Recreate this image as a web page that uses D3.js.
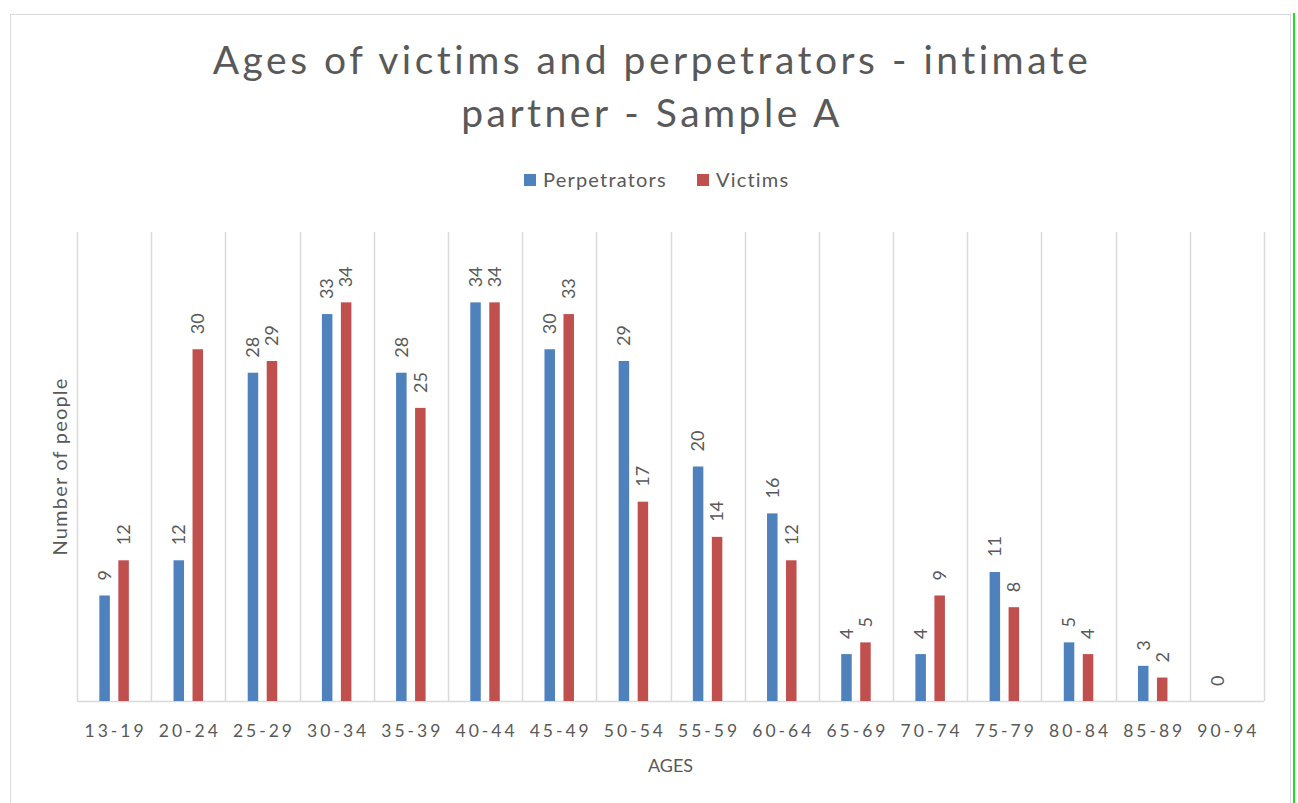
<!DOCTYPE html>
<html>
<head>
<meta charset="utf-8">
<script src="https://cdn.jsdelivr.net/npm/d3@7"></script>
<style>
  body { margin: 0; background: #fff; }
  text { font-family: Lato, "Open Sans", sans-serif; fill: #595959; }
</style>
</head>
<body>
<div id="chart"></div>
<script>
// age bands on the x axis
const ageGroups = ["13-19", "20-24", "25-29", "30-34", "35-39", "40-44", "45-49", "50-54",
  "55-59", "60-64", "65-69", "70-74", "75-79", "80-84", "85-89", "90-94"];
const seriesNames = ["Perpetrators", "Victims"];
const perpetrators = [9, 12, 28, 33, 28, 34, 30, 29, 20, 16, 4, 4, 11, 5, 3, 0];
const victims = [12, 30, 29, 34, 25, 34, 33, 17, 14, 12, 5, 9, 8, 4, 2, null];
const colors = ["#4f81bd", "#c0504d"];
const titleLines = ["Ages of victims and perpetrators - intimate", "partner - Sample A"];

const width = 1298, height = 803;
const plot = { left: 77, right: 1264, top: 232, bottom: 701 };

const svg = d3.select("#chart").append("svg")
  .attr("width", width)
  .attr("height", height);

// chart border + the green edge line
svg.append("rect")
  .attr("x", 10.5).attr("y", 14.5)
  .attr("width", 1280).attr("height", 800)
  .attr("fill", "none")
  .attr("stroke", "#d9d9d9");
svg.append("line")
  .attr("x1", 1294).attr("x2", 1294)
  .attr("y1", 13).attr("y2", height)
  .attr("stroke", "#22dd22").attr("stroke-width", 2);

// title
svg.append("g").selectAll("text")
  .data(titleLines)
  .join("text")
  .attr("x", 652)
  .attr("y", (d, i) => 74 + i * 53)
  .attr("text-anchor", "middle")
  .attr("font-size", 39)
  .attr("letter-spacing", 3.5)
  .text(d => d);

// scales
const x0 = d3.scaleBand()
  .domain(ageGroups)
  .range([plot.left, plot.right])
  .padding(0);

const x1 = d3.scaleBand()
  .domain(seriesNames)
  .range([0, x0.bandwidth()])
  .paddingInner(0.447)
  .paddingOuter(1.176);

const y = d3.scaleLinear()
  .domain([0, 40])
  .range([plot.bottom, plot.top]);

// vertical gridlines on category boundaries
const bounds = ageGroups.map(d => x0(d)).concat([plot.right]);
svg.append("g").selectAll("line")
  .data(bounds)
  .join("line")
  .attr("x1", d => Math.round(d) + 0.5)
  .attr("x2", d => Math.round(d) + 0.5)
  .attr("y1", plot.top)
  .attr("y2", plot.bottom)
  .attr("stroke", "#d9d9d9")
  .attr("stroke-width", 1.5);

// baseline
svg.append("line")
  .attr("x1", plot.left).attr("x2", plot.right)
  .attr("y1", plot.bottom + 0.5).attr("y2", plot.bottom + 0.5)
  .attr("stroke", "#d9d9d9")
  .attr("stroke-width", 1.5);

const rows = ageGroups.map((g, i) => ({
  group: g,
  values: [
    { key: seriesNames[0], value: perpetrators[i], color: colors[0] },
    { key: seriesNames[1], value: victims[i], color: colors[1] }
  ]
}));

const groups = svg.append("g").selectAll("g")
  .data(rows)
  .join("g")
  .attr("transform", d => `translate(${x0(d.group)},0)`);

groups.selectAll("rect")
  .data(d => d.values.filter(v => v.value !== null))
  .join("rect")
  .attr("x", d => x1(d.key))
  .attr("width", x1.bandwidth())
  .attr("y", d => y(d.value))
  .attr("height", d => y(0) - y(d.value))
  .attr("fill", d => d.color);

// rotated value labels
groups.selectAll("text")
  .data(d => d.values.filter(v => v.value !== null))
  .join("text")
  .attr("transform", d => `translate(${x1(d.key) + x1.bandwidth() / 2},${y(d.value) - 15}) rotate(-90)`)
  .attr("dy", "0.35em")
  .attr("font-size", 18)
  .attr("fill", "#6b6b6b")
  .text(d => d.value);

// x axis tick labels
const xAxis = d3.axisBottom(x0).tickSize(0).tickPadding(0);
svg.append("g")
  .attr("transform", `translate(0,${plot.bottom})`)
  .call(xAxis)
  .call(g => g.select(".domain").remove())
  .call(g => g.selectAll("text")
    .attr("y", 30)
    .attr("dy", "0.35em")
    .attr("dx", "1.5")
    .attr("font-size", 17.5)
    .attr("letter-spacing", 3)
    .attr("font-family", "Lato, sans-serif")
    .attr("fill", "#595959"));

// axis titles
svg.append("text")
  .attr("x", (plot.left + plot.right) / 2)
  .attr("y", 766)
  .attr("dy", "0.35em")
  .attr("text-anchor", "middle")
  .attr("font-size", 18)
  .text("AGES");

svg.append("text")
  .attr("transform", `translate(60,${(plot.top + plot.bottom) / 2}) rotate(-90)`)
  .attr("dy", "0.35em")
  .attr("text-anchor", "middle")
  .attr("font-size", 20)
  .attr("letter-spacing", 1.2)
  .text("Number of people");

// legend
const legend = svg.append("g").attr("transform", "translate(524,180)");
const legendX = [0, 173];
const item = legend.selectAll("g")
  .data(seriesNames)
  .join("g")
  .attr("transform", (d, i) => `translate(${legendX[i]},0)`);
item.append("rect")
  .attr("x", 0).attr("y", -6)
  .attr("width", 12).attr("height", 12)
  .attr("fill", (d, i) => colors[i]);
item.append("text")
  .attr("x", 19)
  .attr("dy", "0.35em")
  .attr("font-size", 20)
  .attr("letter-spacing", 1.2)
  .text(d => d);
</script>
</body>
</html>
